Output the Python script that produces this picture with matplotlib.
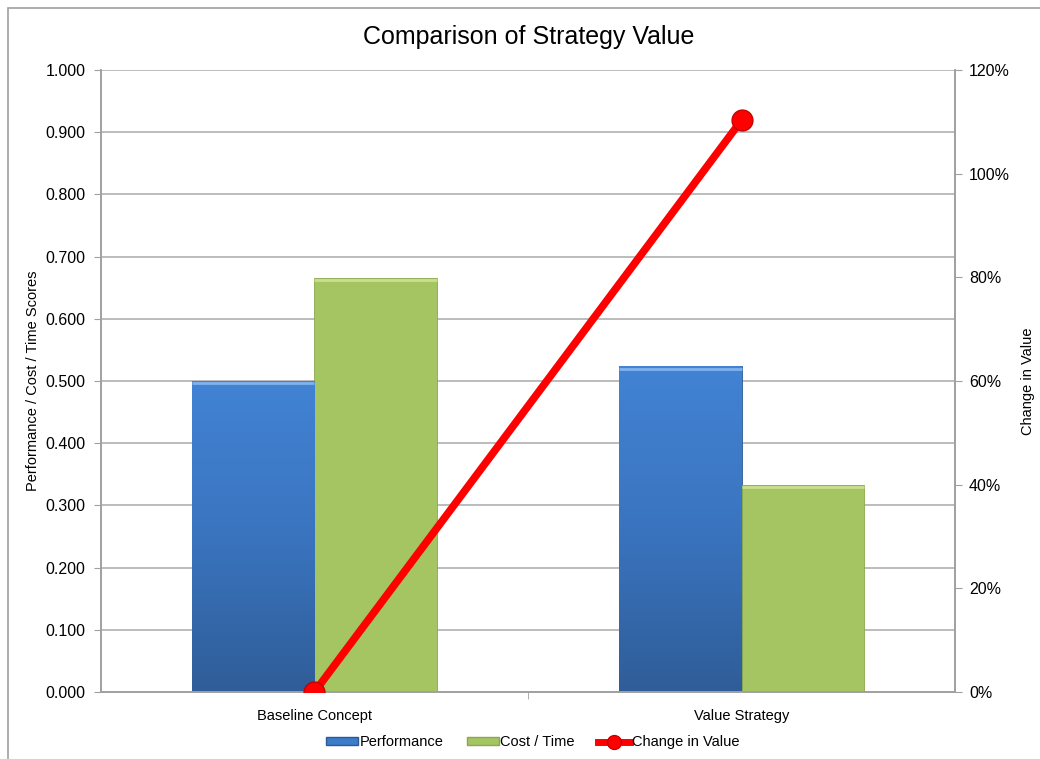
import matplotlib.pyplot as plt
import numpy as np
from matplotlib.patches import Rectangle
from matplotlib.lines import Line2D
from matplotlib.colors import LinearSegmentedColormap
from matplotlib.ticker import PercentFormatter, FormatStrFormatter

# data
categories = ["Baseline Concept", "Value Strategy"]
performance = [0.500, 0.524]
cost_time = [0.666, 0.333]
change_in_value = [0.0, 1.103]

plt.rcParams['font.family'] = ['Liberation Sans', 'DejaVu Sans']

fig = plt.figure(figsize=(10.4, 7.59), dpi=100)
ax = fig.add_axes([0.0971, 0.0883, 0.8212, 0.8195])
ax2 = ax.twinx()

# chart frame
fig.patches.append(Rectangle((8 / 1040, -0.01), 1.1, (759 - 8) / 759 + 0.01,
                             transform=fig.transFigure, fill=False,
                             edgecolor="#a0a0a0", linewidth=1.2))

x = np.arange(len(categories))
width = 0.286

blue_cmap = LinearSegmentedColormap.from_list("b", ["#2f5d98", "#3a74bf", "#4283d4"])
bars_p = ax.bar(x - width / 2, performance, width, color="#3d7cc9",
                edgecolor="#2c5a94", linewidth=0.6, zorder=2)
bars_c = ax.bar(x + width / 2, cost_time, width, color="#a5c462",
                edgecolor="#8aa84c", linewidth=0.6, zorder=2)

# gradient fill for blue bars
grad = np.linspace(0, 1, 256).reshape(-1, 1)
for b in bars_p:
    bx, by = b.get_x(), b.get_y()
    im = ax.imshow(grad, cmap=blue_cmap, aspect="auto", origin="lower",
                   extent=[bx, bx + b.get_width(), by, by + b.get_height()], zorder=2.1)
    im.set_clip_path(b)
    ax.plot([bx, bx + b.get_width()], [by + b.get_height() - 0.004] * 2,
            color="#7fb2ee", linewidth=2, zorder=2.2, solid_capstyle="butt")
for b in bars_c:
    bx = b.get_x()
    ax.plot([bx, bx + b.get_width()], [b.get_height() - 0.004] * 2,
            color="#c8e08c", linewidth=2, zorder=2.2, solid_capstyle="butt")

ax.set_xlim(-0.5, 1.5)
ax.set_ylim(0, 1.0)
ax.set_yticks(np.arange(0, 1.01, 0.1))
ax.yaxis.set_major_formatter(FormatStrFormatter("%.3f"))
ax.set_xticks(x)
ax.set_xticklabels(categories)
ax.set_xticks([0.5], minor=True)
ax.tick_params(axis="x", which="major", length=0, pad=12, labelsize=10.5)
ax.tick_params(axis="x", which="minor", length=5, color="#a0a0a0")
ax.tick_params(axis="y", length=5, color="#a0a0a0", labelsize=11.5, pad=6)
ax.grid(axis="y", color="#b0b0b0", linewidth=1.2, zorder=0)
ax.set_axisbelow(True)
ax.set_ylabel("Performance / Cost / Time Scores", fontsize=10.5, labelpad=4)

ax2.plot(x, change_in_value, color="#ff0000", linewidth=5.5, marker="o",
         markersize=15, markerfacecolor="#ff0000", markeredgecolor="#cc0000",
         zorder=5, solid_capstyle="round")
ax2.set_ylim(0, 1.2)
ax2.set_yticks(np.arange(0, 1.21, 0.2))
ax2.yaxis.set_major_formatter(PercentFormatter(1.0, decimals=0))
ax2.tick_params(axis="y", length=5, color="#a0a0a0", labelsize=11.5, pad=5)
ax2.set_ylabel("Change in Value", fontsize=10.5, labelpad=8)

for a in (ax, ax2):
    for s in ("left", "right", "bottom"):
        a.spines[s].set_color("#a0a0a0")
        a.spines[s].set_linewidth(1.2)
    a.spines["top"].set_visible(False)

fig.text(0.508, 0.951, "Comparison of Strategy Value", ha="center", va="center",
         fontsize=18)

handles = [
    Rectangle((0, 0), 1, 1, facecolor="#3d7cc9", edgecolor="#2c5a94"),
    Rectangle((0, 0), 1, 1, facecolor="#a5c462", edgecolor="#8aa84c"),
    Line2D([0], [0], color="#ff0000", linewidth=5, marker="o", markersize=10,
           markeredgecolor="#cc0000"),
]
fig.legend(handles, ["Performance", "Cost / Time", "Change in Value"],
           loc="center", bbox_to_anchor=(0.512, 0.022), ncol=3, frameon=False,
           fontsize=10.5, handlelength=2.2, handleheight=0.5, columnspacing=1.6,
           handletextpad=0.1)

fig.savefig("out.png", dpi=100)
